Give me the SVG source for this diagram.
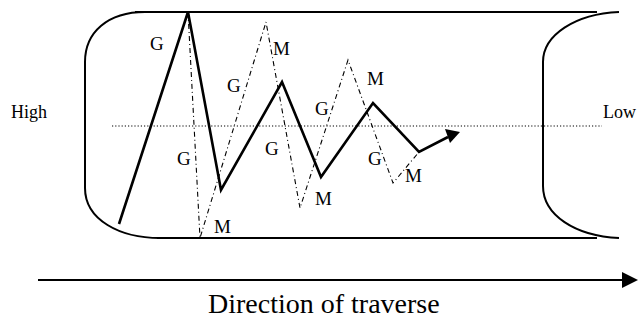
<svg xmlns="http://www.w3.org/2000/svg" width="642" height="320" viewBox="0 0 642 320">
<style>
text{font-family:"Liberation Serif","Times New Roman",serif;fill:#000}
.lbl{font-size:19px}
.side{font-size:18px}
.solid{fill:none;stroke:#000;stroke-width:2.6;stroke-linejoin:miter}
.dd{fill:none;stroke:#000;stroke-width:1.1;stroke-dasharray:5,3,1,3}
.frame{fill:none;stroke:#000;stroke-width:2}
</style>
<rect width="642" height="320" fill="#fff"/>
<g id="chamber">
<line class="frame" x1="135" y1="12" x2="597" y2="12"/>
<line class="frame" x1="157" y1="238" x2="597" y2="238" stroke-width="2.6"/>
<path class="frame" d="M145 12 C108 12 85 32 85 62 L85 188 C85 220 120 238 160 238"/>
<path class="frame" d="M619 12 C575 14 543 35 543 62 L543 186 C543 215 575 236 619 238"/>
</g>
<g id="midline">
<line x1="112" y1="126" x2="602" y2="126" stroke="#000" stroke-width="1.2" stroke-dasharray="1.2,2"/>
<text class="side" x="11" y="118">High</text>
<text class="side" x="603" y="118">Low</text>
</g>
<g id="connectors">
<polyline class="dd" points="188,12 200,238 266,22 300,208 348,60 393,183 419,152"/>
<polyline class="solid" points="119,224 188,12 221,190 282,82 321,177 373,103 419,152 448,137"/>
<polygon points="445,129 460,132 450,143" fill="#000"/>
</g>
<g id="labels">
<text class="lbl" x="150" y="50">G</text>
<text class="lbl" x="227" y="92">G</text>
<text class="lbl" x="273" y="55">M</text>
<text class="lbl" x="177" y="165">G</text>
<text class="lbl" x="214" y="233">M</text>
<text class="lbl" x="265" y="155">G</text>
<text class="lbl" x="367" y="85">M</text>
<text class="lbl" x="315" y="115">G</text>
<text class="lbl" x="315" y="205">M</text>
<text class="lbl" x="368" y="165">G</text>
<text class="lbl" x="405" y="182">M</text>
</g>
<g id="direction">
<line x1="38" y1="280" x2="624" y2="280" stroke="#000" stroke-width="2"/>
<polygon points="622,272 638,280 622,288" fill="#000"/>
<text x="208" y="313" font-size="28">Direction of traverse</text>
</g>
</svg>
